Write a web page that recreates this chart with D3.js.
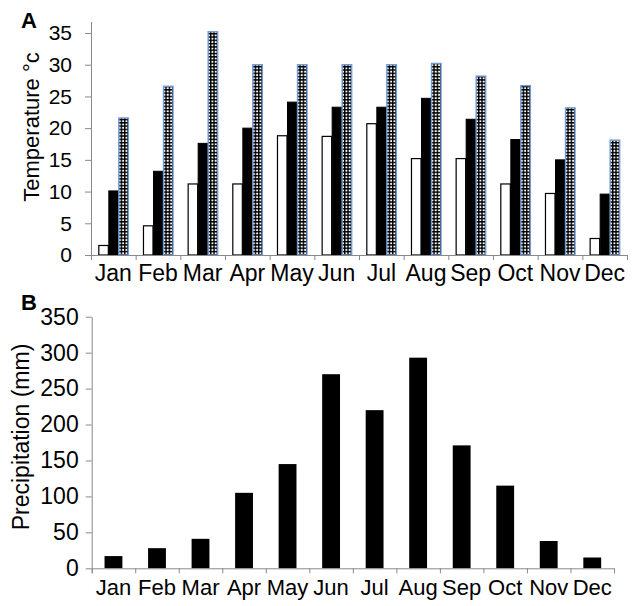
<!DOCTYPE html>
<html>
<head>
<meta charset="utf-8">
<script src="https://cdn.jsdelivr.net/npm/d3@7"></script>
<style>
  body { margin: 0; background: #fff; }
  svg { display: block; }
  text { font-family: "Liberation Sans", Arial, sans-serif; fill: #000; }
</style>
</head>
<body>
<svg id="chart" width="635" height="606"></svg>
<script>
// Monthly climate data
const months = ["Jan", "Feb", "Mar", "Apr", "May", "Jun", "Jul", "Aug", "Sep", "Oct", "Nov", "Dec"];
const tempSeries = ["min", "mean", "max"];
const tempMin  = [1.5, 4.6, 11.2, 11.2, 18.8, 18.7, 20.7, 15.2, 15.2, 11.2, 9.7, 2.6];
const tempMean = [10.1, 13.2, 17.6, 20.0, 24.1, 23.3, 23.3, 24.7, 21.4, 18.2, 15.0, 9.6];
const tempMax  = [21.6, 26.6, 35.2, 30.0, 30.0, 30.0, 30.0, 30.2, 28.2, 26.7, 23.2, 18.1];
const precipitation = [17, 28, 41, 105, 145, 270, 220, 293, 171, 115, 38, 15];
const tempTicks = [0, 5, 10, 15, 20, 25, 30, 35];
const precipTicks = [0, 50, 100, 150, 200, 250, 300, 350];

const axisColor = "#898989";
const svg = d3.select("#chart");

// hatched grid fill for maximum temperature
const defs = svg.append("defs");
const pat = defs.append("pattern")
  .attr("id", "grid").attr("patternUnits", "userSpaceOnUse")
  .attr("width", 3.3).attr("height", 3.3);
pat.append("rect").attr("width", 3.3).attr("height", 3.3).attr("fill", "#fff");
pat.append("path").attr("d", "M0,0.7H3.3M0.7,0V3.3")
  .attr("stroke", "#000").attr("stroke-width", 1.4);

function styleAxis(g) {
  g.selectAll(".domain").attr("stroke", axisColor);
  g.selectAll(".tick line").attr("stroke", axisColor);
  g.selectAll("text").attr("fill", "#000");
}

// ---------- Panel A: temperature ----------
const xA = d3.scaleBand().domain(months).range([91, 627]);
const xAsub = d3.scaleBand().domain(tempSeries).range([0, xA.bandwidth()]).paddingOuter(0.73);
const yA = d3.scaleLinear().domain([0, 35]).range([255, 33]);
const edgesA = d3.scaleLinear().domain([0, 12]).range(xA.range());

const tempRows = months.map((m, i) => ({ month: m, min: tempMin[i], mean: tempMean[i], max: tempMax[i] }));
const styleBySeries = {
  min:  { fill: "#fff", stroke: "#000", sw: 1.2 },
  mean: { fill: "#000", stroke: "#000", sw: 1 },
  max:  { fill: "url(#grid)", stroke: "#6f9bd4", sw: 1.4 }
};

const gA = svg.append("g");
gA.selectAll("g.month")
  .data(tempRows)
  .join("g").attr("class", "month")
  .attr("transform", d => `translate(${xA(d.month)},0)`)
  .selectAll("rect")
  .data(d => tempSeries.map(s => ({ s, v: d[s] })))
  .join("rect")
  .attr("x", d => xAsub(d.s) + 0.5)
  .attr("width", xAsub.bandwidth() - 0.5)
  .attr("y", d => yA(d.v))
  .attr("height", d => yA(0) - yA(d.v))
  .attr("fill", d => styleBySeries[d.s].fill)
  .attr("stroke", d => styleBySeries[d.s].stroke)
  .attr("stroke-width", d => styleBySeries[d.s].sw);

// y axis
const yAxisA = svg.append("g").attr("transform", "translate(91,0)")
  .call(d3.axisLeft(yA).tickValues(tempTicks).tickSize(6).tickSizeOuter(0).tickPadding(13))
  .call(g => g.select(".domain").attr("d", `M0.5,${yA(0)}V${yA(35) - 11}`))
  .call(styleAxis);
yAxisA.selectAll("text").style("font-size", "21px");

// x axis: boundary ticks and month labels
svg.append("g").attr("transform", `translate(0,${yA(0)})`)
  .call(d3.axisBottom(edgesA).tickValues(d3.range(13)).tickSize(5).tickFormat(""))
  .call(styleAxis);
svg.append("g").attr("transform", `translate(0,${yA(0)})`)
  .call(d3.axisBottom(xA).tickSize(0).tickPadding(10))
  .call(g => g.select(".domain").remove())
  .selectAll("text").style("font-size", "23px");

svg.append("text").attr("transform", "translate(39,127) rotate(-90)")
  .attr("text-anchor", "middle").style("font-size", "22px")
  .text("Temperature °c");
svg.append("text").attr("x", 21).attr("y", 28)
  .style("font-size", "22px").style("font-weight", "bold").text("A");

// ---------- Panel B: precipitation ----------
const xB = d3.scaleBand().domain(months).range([91.7, 614]);
const yB = d3.scaleLinear().domain([0, 350]).range([568.3, 316.7]);
const edgesB = d3.scaleLinear().domain([0, 12]).range(xB.range());
const barW = xB.bandwidth() * 0.41;

svg.append("g").selectAll("rect")
  .data(months.map((m, i) => ({ month: m, v: precipitation[i] })))
  .join("rect")
  .attr("x", d => xB(d.month) + (xB.bandwidth() - barW) / 2)
  .attr("width", barW)
  .attr("y", d => yB(d.v))
  .attr("height", d => yB(0) - yB(d.v))
  .attr("fill", "#000");

const yAxisB = svg.append("g").attr("transform", "translate(91.7,0)")
  .call(d3.axisLeft(yB).tickValues(precipTicks).tickSize(6).tickSizeOuter(0).tickPadding(7))
  .call(styleAxis);
yAxisB.selectAll("text").style("font-size", "23px");

svg.append("g").attr("transform", `translate(0,${yB(0)})`)
  .call(d3.axisBottom(edgesB).tickValues(d3.range(13)).tickSize(5).tickFormat(""))
  .call(styleAxis);
svg.append("g").attr("transform", `translate(0,${yB(0)})`)
  .call(d3.axisBottom(xB).tickSize(0).tickPadding(11))
  .call(g => g.select(".domain").remove())
  .selectAll("text").style("font-size", "22px");

svg.append("text").attr("transform", "translate(29,437) rotate(-90)")
  .attr("text-anchor", "middle").style("font-size", "23px")
  .text("Precipitation (mm)");
svg.append("text").attr("x", 21).attr("y", 310)
  .style("font-size", "22px").style("font-weight", "bold").text("B");
</script>
</body>
</html>
